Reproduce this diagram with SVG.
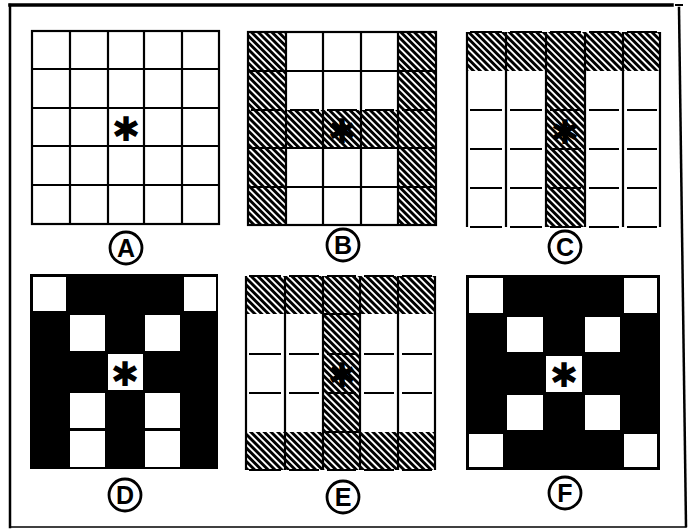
<svg xmlns="http://www.w3.org/2000/svg" width="690" height="531" viewBox="0 0 690 531">
<style>
.g{fill:none;stroke:#000;stroke-width:2.2}
.d{fill:none;stroke:#000;stroke-width:2.2}
.w{fill:#fff}
.k{fill:#000}
.h{fill:url(#hatch)}
.frame{fill:none;stroke:#000;stroke-linecap:square}
.lab circle{fill:#fff;stroke:#000;stroke-width:2.8}
.lab text{font-family:"Liberation Sans",Arial,sans-serif;font-weight:bold;font-size:25px;text-anchor:middle}
.star{font-family:"DejaVu Sans",sans-serif;font-weight:bold;font-size:34px;text-anchor:middle}
</style>
<defs>
<pattern id="hatch" patternUnits="userSpaceOnUse" width="4.8" height="4.8" patternTransform="rotate(-45)">
<rect width="4.8" height="4.8" fill="#fff"/>
<rect width="2.9" height="4.8" fill="#000"/>
</pattern>
</defs>
<rect width="690" height="531" fill="#fff"/>

<g id="frame">
<path class="frame" stroke-width="3.5" d="M10 5H672"/>
<path class="frame" stroke-width="2" d="M676 5H682"/>
<path class="frame" stroke-width="2.5" d="M10 5V527"/>
<path class="frame" stroke-width="2.5" d="M679 8L686 526"/>
<path class="frame" stroke-width="1.5" d="M10 527H686"/>
</g>

<g id="panel-a">
<rect x="32" y="31" width="187" height="193" class="g"/>
<path class="g" d="M70 31V224M108 31V224M144 31V224M182 31V224M32 69H219M32 108H219M32 146H219M32 185H219"/>
<text class="star" x="126" y="141">✱</text>
</g>

<g id="panel-b">
<rect class="h" x="248" y="32" width="38" height="193"/>
<rect class="h" x="398" y="32" width="38" height="193"/>
<rect class="h" x="286" y="110" width="112" height="38"/>
<rect x="248" y="32" width="188" height="193" class="g"/>
<path class="g" d="M286 32V225M323 32V225M361 32V225M398 32V225M248 71H436M248 148H436M248 187H436"/>
<path class="d" d="M251 110H282M290 110H319M327 110H357M365 110H394M402 110H433"/>
<text class="star" x="342" y="143">✱</text>
</g>

<g id="panel-c">
<rect class="h" x="467" y="32" width="193" height="39"/>
<rect class="h" x="546" y="71" width="39" height="156"/>
<path class="g" d="M467 32V227M506 32V227M546 32V227M585 32V227M623 32V227M660 32V227"/>
<path class="d" d="M470 32H502M510 32H542M550 32H581M589 32H619M627 32H657"/>
<path class="d" d="M470 110H502M510 110H542M550 110H581M589 110H619M627 110H657"/>
<path class="d" d="M470 149H502M510 149H542M550 149H581M589 149H619M627 149H657"/>
<path class="d" d="M470 188H502M510 188H542M550 188H581M589 188H619M627 188H657"/>
<path class="d" d="M470 227H502M510 227H542M550 227H581M589 227H619M627 227H657"/>
<text class="star" x="565" y="144">✱</text>
</g>

<g id="panel-d">
<rect class="k" x="30" y="274" width="188" height="195"/>
<rect class="w" x="33" y="277" width="33" height="34"/>
<rect class="w" x="184" y="277" width="32" height="34"/>
<rect class="w" x="70" y="315" width="35" height="36"/>
<rect class="w" x="145" y="315" width="35" height="36"/>
<rect class="w" x="108" y="354" width="35" height="36"/>
<rect class="w" x="70" y="393" width="35" height="35"/>
<rect class="w" x="145" y="393" width="35" height="35"/>
<rect class="w" x="70" y="431" width="35" height="36"/>
<rect class="w" x="145" y="431" width="35" height="36"/>
<text class="star" x="125" y="386">✱</text>
</g>

<g id="panel-e">
<rect class="h" x="246" y="276" width="189" height="38"/>
<rect class="h" x="246" y="432" width="189" height="38"/>
<rect class="h" x="323" y="314" width="37" height="118"/>
<path class="g" d="M246 276V470M285 276V470M323 276V470M360 276V470M398 276V470M435 276V470"/>
<path class="g" d="M323 314H360M323 432H360"/>
<path class="d" d="M249 354H281M289 354H319M327 354H356M364 354H394M402 354H432"/>
<path class="d" d="M249 393H281M289 393H319M327 393H356M364 393H394M402 393H432"/>
<path class="d" d="M249 276H281M289 276H319M327 276H356M364 276H394M402 276H432"/>
<path class="d" d="M249 470H281M289 470H319M327 470H356M364 470H394M402 470H432"/>
<text class="star" x="342" y="387">✱</text>
</g>

<g id="panel-f">
<rect class="k" x="466" y="275" width="194" height="195"/>
<rect class="w" x="469" y="278" width="34" height="35"/>
<rect class="w" x="624" y="278" width="33" height="35"/>
<rect class="w" x="507" y="317" width="36" height="35"/>
<rect class="w" x="585" y="317" width="35" height="35"/>
<rect class="w" x="546" y="356" width="36" height="36"/>
<rect class="w" x="507" y="395" width="36" height="35"/>
<rect class="w" x="585" y="395" width="35" height="35"/>
<rect class="w" x="469" y="434" width="34" height="33"/>
<rect class="w" x="624" y="434" width="33" height="33"/>
<text class="star" x="564" y="387">✱</text>
</g>

<g id="label-a" class="lab"><circle cx="126" cy="248" r="16"/><text x="126" y="257">A</text></g>
<g id="label-b" class="lab"><circle cx="343" cy="245" r="16"/><text x="343" y="254">B</text></g>
<g id="label-c" class="lab"><circle cx="565" cy="247" r="16"/><text x="565" y="256">C</text></g>
<g id="label-d" class="lab"><circle cx="125" cy="495" r="16"/><text x="125" y="504">D</text></g>
<g id="label-e" class="lab"><circle cx="343" cy="497" r="16"/><text x="343" y="506">E</text></g>
<g id="label-f" class="lab"><circle cx="565" cy="493" r="16"/><text x="565" y="502">F</text></g>
</svg>
